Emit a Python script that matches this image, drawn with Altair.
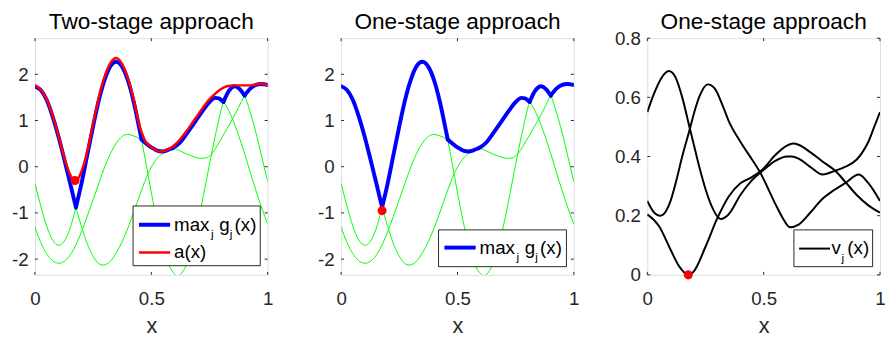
import altair as alt
import pandas as pd

# ---------------- data ----------------
# g_j(x) curves (panels 1 and 2)
g1_x = [0, 0.025, 0.05, 0.075, 0.1, 0.125, 0.15, 0.176, 0.2, 0.225, 0.25, 0.275, 0.292, 0.325, 0.35,
        0.375, 0.4, 0.425, 0.45, 0.472, 0.5, 0.525, 0.549, 0.57, 0.591, 0.625, 0.65, 0.675, 0.7, 0.725,
        0.75, 0.775, 0.79, 0.81, 0.85, 0.875, 0.9, 0.925, 0.95, 0.975, 1.0]
g1_y = [1.74, 1.66, 1.45, 1.10, 0.67, 0.18, -0.33, -0.88, -1.29, -1.67, -1.94, -2.10, -2.13, -2.04, -1.86,
        -1.62, -1.32, -0.98, -0.62, -0.32, -0.01, 0.18, 0.29, 0.35, 0.40, 0.53, 0.70, 0.88, 1.06, 1.24,
        1.40, 1.49, 1.48, 1.40, 1.02, 0.68, 0.30, -0.12, -0.52, -0.90, -1.24]

g2_x = [0, 0.025, 0.05, 0.075, 0.103, 0.125, 0.15, 0.176, 0.2, 0.225, 0.25, 0.275, 0.3, 0.325, 0.349,
        0.375, 0.4, 0.425, 0.45, 0.458, 0.475, 0.5, 0.525, 0.55, 0.575, 0.6, 0.613, 0.625, 0.65, 0.675,
        0.7, 0.725, 0.75, 0.775, 0.81, 0.835, 0.859, 0.88, 0.901, 0.925, 0.95, 0.975, 1.0]
g2_y = [-0.36, -0.85, -1.28, -1.58, -1.70, -1.62, -1.35, -0.88, -0.36, 0.26, 0.88, 1.45, 1.89, 2.18, 2.27,
        2.16, 1.86, 1.39, 0.79, 0.59, 0.13, -0.56, -1.20, -1.73, -2.12, -2.32, -2.36, -2.33, -2.13, -1.75,
        -1.22, -0.60, 0.05, 0.67, 1.40, 1.65, 1.74, 1.68, 1.54, 1.18, 0.73, 0.21, -0.32]

g3_x = [0, 0.025, 0.05, 0.075, 0.103, 0.125, 0.15, 0.175, 0.2, 0.225, 0.25, 0.275, 0.3, 0.325, 0.35,
        0.375, 0.399, 0.4225, 0.458, 0.5, 0.525, 0.549, 0.57, 0.591, 0.625, 0.65, 0.675, 0.7, 0.718,
        0.74, 0.76, 0.78, 0.8, 0.825, 0.85, 0.875, 0.901, 0.925, 0.95, 0.972, 1.0]
g3_y = [-1.31, -1.64, -1.88, -2.03, -2.09, -2.05, -1.92, -1.70, -1.41, -1.07, -0.71, -0.35, 0.0, 0.29, 0.515,
        0.655, 0.70, 0.67, 0.59, 0.42, 0.35, 0.33, 0.36, 0.40, 0.34, 0.28, 0.23, 0.19, 0.18,
        0.20, 0.28, 0.43, 0.60, 0.82, 1.04, 1.28, 1.54, 1.69, 1.77, 1.79, 1.77]

# which g_j is the maximum on each x-interval (kinks)
max_piece_curve = ["g1", "g2", "g3", "g1", "g2", "g3"]
max_piece_from = [0.0, 0.176, 0.458, 0.591, 0.81, 0.901]
max_piece_to = [0.176, 0.458, 0.591, 0.81, 0.901, 1.0]

# a(x) (panel 1)
a_x = [0, 0.025, 0.05, 0.075, 0.1, 0.125, 0.15, 0.172, 0.19, 0.21, 0.225, 0.25, 0.275, 0.3, 0.325, 0.349,
       0.375, 0.4, 0.425, 0.45, 0.475, 0.5, 0.525, 0.545, 0.575, 0.6, 0.625, 0.65, 0.675, 0.7, 0.725,
       0.75, 0.775, 0.8, 0.825, 0.85, 0.875, 0.9, 0.925, 0.95, 0.972, 1.0]
a_y = [1.76, 1.67, 1.46, 1.12, 0.69, 0.22, -0.16, -0.30, -0.22, 0.05, 0.33, 0.94, 1.51, 1.96, 2.25, 2.35,
       2.22, 1.91, 1.44, 0.88, 0.55, 0.42, 0.35, 0.33, 0.38, 0.47, 0.60, 0.76, 0.94, 1.12, 1.30,
       1.46, 1.58, 1.68, 1.74, 1.76, 1.76, 1.76, 1.76, 1.78, 1.80, 1.76]

# v_j(x) curves (panel 3)
v1_x = [0, 0.03, 0.06, 0.092, 0.12, 0.15, 0.183, 0.2, 0.225, 0.25, 0.275, 0.315, 0.35, 0.4, 0.45, 0.5,
        0.55, 0.6, 0.62, 0.65, 0.7, 0.754, 0.8, 0.85, 0.9, 0.925, 0.95, 0.975, 1.0]
v1_y = [0.55, 0.615, 0.665, 0.689, 0.67, 0.60, 0.494, 0.44, 0.36, 0.29, 0.235, 0.189, 0.205, 0.27, 0.32, 0.355,
        0.385, 0.40, 0.40, 0.393, 0.365, 0.339, 0.35, 0.365, 0.39, 0.415, 0.45, 0.50, 0.55]
v2_x = [0, 0.025, 0.056, 0.08, 0.1, 0.125, 0.15, 0.183, 0.2, 0.225, 0.26, 0.29, 0.325, 0.35, 0.4, 0.45,
        0.486, 0.52, 0.55, 0.58, 0.613, 0.65, 0.7, 0.75, 0.8, 0.85, 0.909, 0.95, 1.0]
v2_y = [0.25, 0.215, 0.2, 0.215, 0.25, 0.32, 0.40, 0.494, 0.545, 0.605, 0.644, 0.63, 0.57, 0.52, 0.45, 0.39,
        0.345, 0.29, 0.24, 0.195, 0.161, 0.17, 0.21, 0.255, 0.285, 0.31, 0.339, 0.31, 0.25]
v3_x = [0, 0.05, 0.1, 0.14, 0.176, 0.2, 0.25, 0.3, 0.35, 0.4, 0.444, 0.486, 0.5, 0.55, 0.6, 0.627, 0.65,
        0.7, 0.75, 0.81, 0.85, 0.9, 0.95, 1.0]
v3_y = [0.205, 0.165, 0.085, 0.025, 0.0, 0.012, 0.095, 0.19, 0.265, 0.31, 0.328, 0.35, 0.36, 0.405, 0.437,
        0.444, 0.44, 0.415, 0.385, 0.35, 0.315, 0.27, 0.235, 0.21]

# selected points (red dots)
dot_x = [0.172, 0.176, 0.176]
dot_y = [-0.30, -0.95, 0.0]

titles = ["Two-stage approach", "One-stage approach", "One-stage approach"]
x_ticks = [0, 0.5, 1]
g_ticks = [-2, -1, 0, 1, 2]
v_ticks = [0, 0.2, 0.4, 0.6, 0.8]
g_domain = [-2.34, 2.78]
v_domain = [0, 0.8]

# ---------------- styling ----------------
FONT = "Liberation Sans"
AX = "#262626"
W, H = 236.5, 240.5
GREEN, BLUE, RED = "#00ff00", "#0000ff", "#ff0000"


def curves_df(spec):
    rows = []
    for name, xs, ys in spec:
        for x, y in zip(xs, ys):
            rows.append({"curve": name, "x": x, "y": y})
    return pd.DataFrame(rows)


g_df = curves_df([("g1", g1_x, g1_y), ("g2", g2_x, g2_y), ("g3", g3_x, g3_y)])
parts = []
for i, (c, lo, hi) in enumerate(zip(max_piece_curve, max_piece_from, max_piece_to)):
    sub = g_df[(g_df.curve == c) & (g_df.x >= lo - 1e-9) & (g_df.x <= hi + 1e-9)].copy()
    sub["seg"] = i
    parts.append(sub)
max_df = pd.concat(parts, ignore_index=True)
a_df = pd.DataFrame({"x": a_x, "y": a_y})
v_df = curves_df([("v1", v1_x, v1_y), ("v2", v2_x, v2_y), ("v3", v3_x, v3_y)])


def X(field="x"):
    return alt.X(f"{field}:Q", scale=alt.Scale(domain=[0, 1], nice=False, zero=False),
                 axis=alt.Axis(values=x_ticks, labelExpr="'' + datum.value", ticks=False, domain=False,
                               grid=False, labelFlush=False, labelOverlap=False, labelFont=FONT,
                               labelFontSize=19, labelColor=AX, labelPadding=15, title="x",
                               titleFont=FONT, titleFontSize=22, titleFontWeight="normal",
                               titleColor=AX, titlePadding=8))


def Y(domain, ticks, field="y"):
    return alt.Y(f"{field}:Q", scale=alt.Scale(domain=domain, nice=False, zero=False),
                 axis=alt.Axis(values=ticks, labelExpr="'' + datum.value", ticks=False, domain=False,
                               grid=False, labelFlush=False, labelOverlap=False, labelFont=FONT,
                               labelFontSize=19, labelColor=AX, labelPadding=7, title=None))


def tick_layers(domain, ticks):
    ty = pd.DataFrame({"v": ticks})
    tx = pd.DataFrame({"v": x_ticks})
    r = dict(color=AX, strokeWidth=1)
    return [
        alt.Chart(ty).mark_rule(**r).encode(y=Y(domain, ticks, "v"), x=alt.value(0), x2=alt.value(3)),
        alt.Chart(ty).mark_rule(**r).encode(y=Y(domain, ticks, "v"), x=alt.value(W - 3), x2=alt.value(W)),
        alt.Chart(tx).mark_rule(**r).encode(x=X("v"), y=alt.value(H - 3), y2=alt.value(H)),
        alt.Chart(tx).mark_rule(**r).encode(x=X("v"), y=alt.value(0), y2=alt.value(3)),
    ]


ONE = pd.DataFrame({"k": [0]})


def legend(box, rows):
    x0, y0, x1, y1 = box
    layers = [alt.Chart(ONE).mark_rect(fill="white", stroke=AX, strokeWidth=1).encode(
        x=alt.value(x0), x2=alt.value(x1), y=alt.value(y0), y2=alt.value(y1))]
    for color, sw, ly, lx0, lx1, tx, pieces in rows:
        layers.append(alt.Chart(ONE).mark_rule(color=color, strokeWidth=sw).encode(
            x=alt.value(lx0), x2=alt.value(lx1), y=alt.value(ly)))
        for text, dx, size, dy in pieces:
            layers.append(alt.Chart(ONE).mark_text(
                text=text, font=FONT, fontSize=size, color="black", align="left",
                baseline="alphabetic").encode(x=alt.value(tx + dx), y=alt.value(ly + 6 + dy)))
    return layers


MAXG = [("max", 0, 19, 0), ("j", 37.5, 12, 8), ("g", 46, 19, 0), ("j", 56.5, 12, 8), ("(x)", 61.5, 19, 0)]
VJ = [("v", 0, 19, 0), ("j", 10, 12, 8), ("(x)", 16, 19, 0)]


def title_layer(t):
    return alt.Chart(ONE).mark_text(text=t, font=FONT, fontSize=23, color="black", align="center",
                                    baseline="alphabetic").encode(x=alt.value(W / 2), y=alt.value(-9))


Yg = lambda: Y(g_domain, g_ticks)
Yv = lambda: Y(v_domain, v_ticks)

green = alt.Chart(g_df).mark_line(color=GREEN, strokeWidth=1, interpolate="monotone", clip=True).encode(
    x=X(), y=Yg(), detail="curve:N")
blue = alt.Chart(max_df).mark_line(color=BLUE, strokeWidth=4, interpolate="monotone", clip=True,
                                   strokeCap="round", strokeJoin="round").encode(
    x=X(), y=Yg(), detail="seg:N")
red_line = alt.Chart(a_df).mark_line(color=RED, strokeWidth=2.5, interpolate="monotone", clip=True).encode(
    x=X(), y=Yg())


def dot(i, ych):
    d = pd.DataFrame({"x": [dot_x[i]], "y": [dot_y[i]]})
    return alt.Chart(d).mark_circle(color=RED, opacity=1, size=85).encode(x=X(), y=ych)


p1 = alt.layer(
    green, blue, red_line, dot(0, Yg()), *tick_layers(g_domain, g_ticks),
    *legend((99.7, 170.5, 229, 231.2), [
        (BLUE, 4, 189.5, 105.7, 137.4, 141.4, MAXG),
        (RED, 2.5, 217.8, 105.7, 137.4, 141.4, [("a(x)", 0, 19, 0)]),
    ]),
    title_layer(titles[0]),
).properties(width=W, height=H)

p2 = alt.layer(
    green, blue, dot(1, Yg()), *tick_layers(g_domain, g_ticks),
    *legend((99, 194.8, 229, 232.2), [
        (BLUE, 4, 212.8, 105, 136.7, 140.7, MAXG),
    ]),
    title_layer(titles[1]),
).properties(width=W, height=H)

black = alt.Chart(v_df).mark_line(color="black", strokeWidth=2, interpolate="monotone", clip=True).encode(
    x=X(), y=Yv(), detail="curve:N")
p3 = alt.layer(
    black, dot(2, Yv()), *tick_layers(v_domain, v_ticks),
    *legend((149, 194.8, 229, 232.2), [
        ("black", 2, 213.8, 154.3, 185.7, 187.3, VJ),
    ]),
    title_layer(titles[2]),
).properties(width=W, height=H)

chart = alt.hconcat(p1, p2, p3, spacing=74.2, bounds="flush").properties(
    padding={"left": 2.4, "right": 0, "top": 0, "bottom": 0}
).configure_view(stroke=AX, strokeWidth=1).configure(background="white")

chart.save("out.html", embed_options={"renderer": "svg", "actions": False})
